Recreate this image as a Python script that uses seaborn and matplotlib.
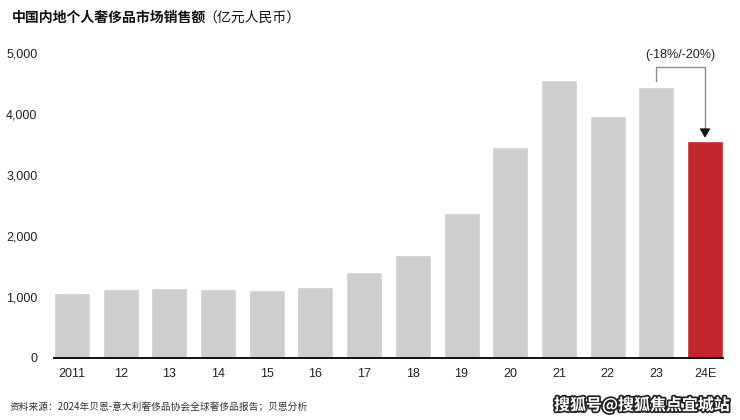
import matplotlib
matplotlib.use("Agg")
import matplotlib.pyplot as plt
import matplotlib.patheffects as pe
import pandas as pd
import seaborn as sns

# 中国内地个人奢侈品市场销售额（亿元人民币）
years = ["2011", "12", "13", "14", "15", "16", "17", "18", "19", "20", "21", "22", "23", "24E"]
sales = [1065, 1131, 1152, 1136, 1120, 1169, 1415, 1693, 2377, 3459, 4562, 3967, 4447, 3562]
bar_colors = ["#CDCED0"] * 13 + ["#C1272D"]
y_ticks = [0, 1000, 2000, 3000, 4000, 5000]
y_tick_labels = ["0", "1,000", "2,000", "3,000", "4,000", "5,000"]
change_label = "(-18%/-20%)"

sns.set_theme(style="white")
plt.rcParams["font.family"] = ["Liberation Sans", "Noto Sans CJK SC", "DejaVu Sans"]

df = pd.DataFrame({"year": years, "sales": sales})

fig = plt.figure(figsize=(7.4, 4.2), dpi=100)
ax = fig.add_axes([54 / 740, 1 - 358 / 420, (723 - 54) / 740, (358 - 53) / 420])

sns.barplot(data=df, x="year", y="sales", hue="year", palette=bar_colors,
            legend=False, width=0.74, saturation=1, ax=ax)

ax.set_xlim(-0.37, 13.37)
ax.set_ylim(0, 5000)
ax.set_yticks(y_ticks)
ax.set_yticklabels(y_tick_labels)
ax.set_xlabel("")
ax.set_ylabel("")
ax.tick_params(axis="both", length=0, labelsize=9, colors="#222222")
ax.tick_params(axis="y", pad=12)
ax.tick_params(axis="x", pad=7)
for side in ["top", "right", "left"]:
    ax.spines[side].set_visible(False)
ax.spines["bottom"].set_color("#111111")
ax.spines["bottom"].set_linewidth(1.4)

# bracket from 23 to 24E
start_y = sales[12] + 90
top_y = 4770
tip_y = sales[13] + 50
ax.plot([12, 12, 13, 13], [start_y, top_y, top_y, tip_y + 100],
        color="#8C8C8C", lw=1, clip_on=False)
ax.annotate("", xy=(13, tip_y), xytext=(13, tip_y + 140),
            arrowprops=dict(arrowstyle="-|>,head_length=0.5,head_width=0.3",
                            ec="#111111", fc="#111111", lw=0.8,
                            mutation_scale=11, shrinkA=0, shrinkB=0),
            annotation_clip=False)
ax.text(12.5, 4975, change_label, ha="center", va="center", fontsize=9,
        color="#222222", clip_on=False)

# title
fig.text(12 / 740, 1 - 18 / 420, "中国内地个人奢侈品市场销售额", fontsize=10,
         fontweight="bold", color="#111111", va="center",
         family=["Noto Sans CJK SC", "DejaVu Sans"])
fig.text(203 / 740, 1 - 18 / 420, "（亿元人民币）", fontsize=10,
         color="#111111", va="center", family=["Noto Sans CJK SC", "DejaVu Sans"])

# footer
fig.text(10 / 740, 1 - 407 / 420, "资料来源：2024年贝恩-意大利奢侈品协会全球奢侈品报告；贝恩分析",
         fontsize=7, color="#333333", va="center",
         family=["Noto Sans CJK SC", "DejaVu Sans"])
fig.text(730 / 740, 1 - 405 / 420, "搜狐号@搜狐焦点宜城站", fontsize=11.5,
         fontweight="bold", color="white", ha="right", va="center",
         family=["Noto Sans CJK SC", "DejaVu Sans"],
         path_effects=[pe.withStroke(linewidth=2.5, foreground="#222222")])

fig.savefig("out.png", dpi=100)
